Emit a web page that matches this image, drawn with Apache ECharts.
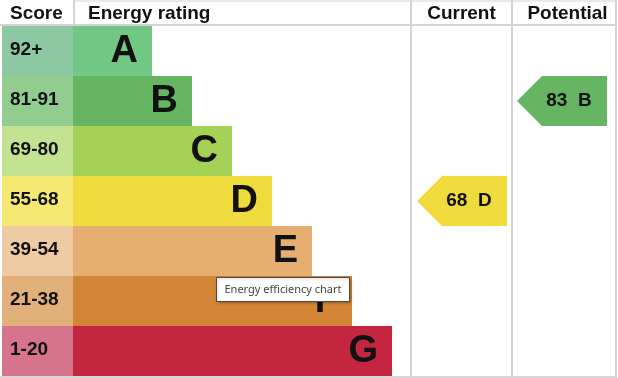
<!DOCTYPE html>
<html>
<head>
<meta charset="utf-8">
<script src="https://cdn.jsdelivr.net/npm/echarts@6/dist/echarts.min.js"></script>
<style>html,body{margin:0;padding:0;background:#fff}#c{width:618px;height:378px}</style>
</head>
<body>
<div id="c"></div>
<script>
const categories = ['A', 'B', 'C', 'D', 'E', 'F', 'G'];
const scoreRanges = ['92+', '81-91', '69-80', '55-68', '39-54', '21-38', '1-20'];
const bandMinScores = [92, 81, 69, 55, 39, 21, 1];
const bandLengths = [2, 3, 4, 5, 6, 7, 8];
const scoreCellFill = [1, 1, 1, 1, 1, 1, 1];
const currentScore = 68;
const potentialScore = 83;
const headers = ['Score', 'Energy rating', 'Current', 'Potential'];
const barColors = ['#71c884', '#65b562', '#a4d256', '#efdb3c', '#e6ae70', '#d38636', '#c5263f'];
const scoreColors = ['#8cc8a2', '#93cc8f', '#c3e292', '#f6e973', '#eecba2', '#e2b07b', '#d6748b'];
const tooltipText = 'Energy efficiency chart';

function bandOf(score) {
  for (let i = 0; i < bandMinScores.length; i++) if (score >= bandMinScores[i]) return i;
  return bandMinScores.length - 1;
}

const FONT = '"Liberation Sans", Arial, sans-serif';
const TOP = 26, H = 350;

function catAxis(gi) {
  return { type: 'category', gridIndex: gi, data: categories, inverse: true,
    axisLine: { show: false }, axisTick: { show: false }, axisLabel: { show: false }, splitLine: { show: false } };
}
function valAxis(gi, max) {
  return { type: 'value', gridIndex: gi, min: 0, max: max, show: false, splitLine: { show: false } };
}

function arrowItem(params, api) {
  const cs = params.coordSys;
  const idx = api.value(1);
  const c = api.coord([0, idx]);
  const h = api.size([0, 1])[1];
  const top = c[1] - h / 2, bottom = c[1] + h / 2;
  const x0 = cs.x + 5, x1 = x0 + 90, xb = x0 + 25;
  const band = Math.round(idx);
  return {
    type: 'group',
    children: [
      { type: 'polygon', shape: { points: [[x0, c[1]], [xb, top], [x1, top], [x1, bottom], [xb, bottom]] },
        style: { fill: barColors[band] } },
      { type: 'text', x: x1 - 38, y: c[1],
        style: { text: api.value(2) + '  ' + categories[band], fill: '#111', font: 'bold 19px ' + FONT,
          align: 'center', verticalAlign: 'middle' } }
    ]
  };
}

const chart = echarts.init(document.getElementById('c'), null, { renderer: 'canvas' });
const lineStyle = { stroke: '#d4d4d4', lineWidth: 2 };
chart.setOption({
  animation: false,
  grid: [
    { left: 2, top: TOP, width: 71, height: H },
    { left: 72, top: TOP, width: 339, height: H },
    { left: 412, top: TOP, width: 99, height: H },
    { left: 512, top: TOP, width: 103, height: H }
  ],
  xAxis: [valAxis(0, 1), valAxis(1, 339 / 40), valAxis(2, 1), valAxis(3, 1)],
  yAxis: [catAxis(0), catAxis(1), catAxis(2), catAxis(3)],
  series: [
    { type: 'bar', xAxisIndex: 1, yAxisIndex: 1, barWidth: '100%', z: 2,
      data: bandLengths.map((v, i) => ({ value: v, itemStyle: { color: barColors[i] } })),
      label: { show: true, position: 'insideRight', distance: 14, formatter: p => categories[p.dataIndex],
        color: '#111', fontSize: 38, fontWeight: 'bold', fontFamily: FONT, offset: [0, 1] } },
    { type: 'bar', xAxisIndex: 0, yAxisIndex: 0, barWidth: '100%', z: 3,
      data: scoreCellFill.map((v, i) => ({ value: v, itemStyle: { color: scoreColors[i] } })),
      label: { show: true, position: 'insideLeft', distance: 8, formatter: p => scoreRanges[p.dataIndex],
        color: '#111', fontSize: 19, fontWeight: 'bold', fontFamily: FONT, offset: [0, -1] } },
    { type: 'custom', xAxisIndex: 2, yAxisIndex: 2, renderItem: arrowItem,
      data: [[0, bandOf(currentScore), currentScore]] },
    { type: 'custom', xAxisIndex: 3, yAxisIndex: 3, renderItem: arrowItem,
      data: [[0, bandOf(potentialScore), potentialScore]] }
  ],
  graphic: {
    elements: [
      { type: 'line', shape: { x1: 0, y1: 25, x2: 616, y2: 25 }, style: lineStyle, z: 10 },
      { type: 'line', shape: { x1: 74, y1: 1, x2: 616, y2: 1 }, style: { stroke: '#d4d4d4', lineWidth: 1 }, z: 10 },
      { type: 'line', shape: { x1: 0, y1: 377, x2: 616, y2: 377 }, style: lineStyle, z: 10 },
      { type: 'line', shape: { x1: 74, y1: 0, x2: 74, y2: 25 }, style: lineStyle, z: 10 },
      { type: 'line', shape: { x1: 411, y1: 0, x2: 411, y2: 378 }, style: lineStyle, z: 10 },
      { type: 'line', shape: { x1: 512, y1: 0, x2: 512, y2: 378 }, style: lineStyle, z: 10 },
      { type: 'line', shape: { x1: 616, y1: 0, x2: 616, y2: 378 }, style: lineStyle, z: 10 },
      { type: 'text', x: 10, y: 14, style: { text: headers[0], font: 'bold 19px ' + FONT, fill: '#111', verticalAlign: 'middle' }, z: 10 },
      { type: 'text', x: 88, y: 14, style: { text: headers[1], font: 'bold 19px ' + FONT, fill: '#111', verticalAlign: 'middle' }, z: 10 },
      { type: 'text', x: 461.5, y: 14, style: { text: headers[2], font: 'bold 19px ' + FONT, fill: '#111', align: 'center', verticalAlign: 'middle' }, z: 10 },
      { type: 'text', x: 567.5, y: 14, style: { text: headers[3], font: 'bold 19px ' + FONT, fill: '#111', align: 'center', verticalAlign: 'middle' }, z: 10 },
      { type: 'rect', shape: { x: 216.5, y: 277.5, width: 133, height: 24 }, z: 20,
        style: { fill: '#ffffff', stroke: '#4a4a4a', lineWidth: 1, shadowBlur: 3, shadowColor: 'rgba(0,0,0,0.25)', shadowOffsetX: 1, shadowOffsetY: 1 } },
      { type: 'text', x: 283, y: 290, z: 21,
        style: { text: tooltipText, font: '11px "Noto Sans", "DejaVu Sans", sans-serif', fill: '#444', align: 'center', verticalAlign: 'middle' } }
    ]
  }
});
</script>
</body>
</html>
